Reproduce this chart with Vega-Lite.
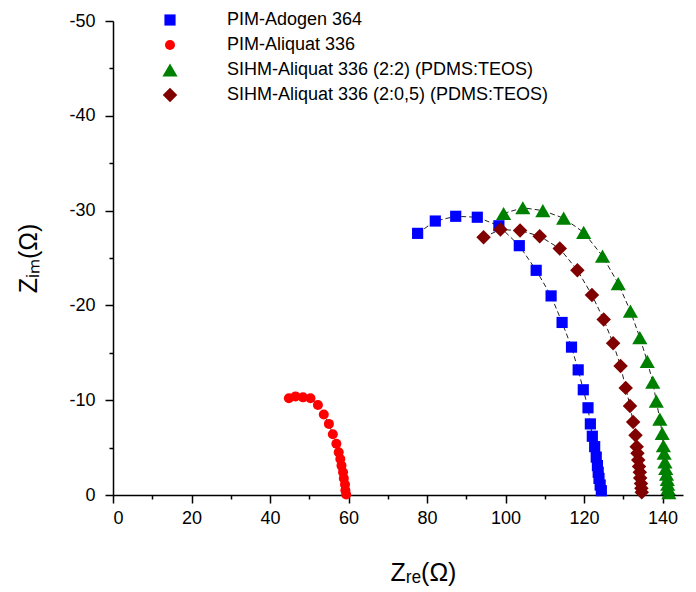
{
  "$schema": "https://vega.github.io/schema/vega-lite/v6.json",
  "autosize": {"type": "none"},
  "padding": {"left": 113, "top": 21, "right": 13, "bottom": 97},
  "width": 570,
  "height": 474,
  "background": "white",
  "config": {
    "view": {"stroke": null},
    "font": "Liberation Sans",
    "axis": {"grid": false, "domainColor": "black", "domainWidth": 1.5, "tickColor": "black", "tickWidth": 1.5, "labelColor": "black", "labelFontSize": 18, "labelFont": "Liberation Sans", "titleFont": "Liberation Sans", "titleFontWeight": "normal", "titleColor": "black", "titleFontSize": 23},
    "legend": {"title": null, "orient": "none", "legendX": 48, "legendY": -10, "labelFontSize": 18, "labelFont": "Liberation Sans", "labelColor": "black", "labelOffset": 48, "rowPadding": 7, "padding": 0, "labelLimit": 500}
  },
  "data": {"values": [
    {"s": "PIM-Adogen 364", "x": 77.6, "y": -27.6},
    {"s": "PIM-Adogen 364", "x": 82.1, "y": -28.9},
    {"s": "PIM-Adogen 364", "x": 87.3, "y": -29.4},
    {"s": "PIM-Adogen 364", "x": 92.8, "y": -29.3},
    {"s": "PIM-Adogen 364", "x": 98.3, "y": -28.4},
    {"s": "PIM-Adogen 364", "x": 103.5, "y": -26.3},
    {"s": "PIM-Adogen 364", "x": 107.8, "y": -23.7},
    {"s": "PIM-Adogen 364", "x": 111.6, "y": -21.0},
    {"s": "PIM-Adogen 364", "x": 114.4, "y": -18.2},
    {"s": "PIM-Adogen 364", "x": 116.8, "y": -15.6},
    {"s": "PIM-Adogen 364", "x": 118.5, "y": -13.2},
    {"s": "PIM-Adogen 364", "x": 119.8, "y": -11.1},
    {"s": "PIM-Adogen 364", "x": 121.0, "y": -9.2},
    {"s": "PIM-Adogen 364", "x": 121.6, "y": -7.5},
    {"s": "PIM-Adogen 364", "x": 122.1, "y": -6.2},
    {"s": "PIM-Adogen 364", "x": 122.7, "y": -5.1},
    {"s": "PIM-Adogen 364", "x": 123.1, "y": -4.0},
    {"s": "PIM-Adogen 364", "x": 123.4, "y": -3.1},
    {"s": "PIM-Adogen 364", "x": 123.6, "y": -2.4},
    {"s": "PIM-Adogen 364", "x": 123.8, "y": -1.75},
    {"s": "PIM-Adogen 364", "x": 124.1, "y": -1.05},
    {"s": "PIM-Adogen 364", "x": 124.4, "y": -0.45},
    {"s": "PIM-Aliquat 336", "x": 44.8, "y": -10.2},
    {"s": "PIM-Aliquat 336", "x": 46.5, "y": -10.4},
    {"s": "PIM-Aliquat 336", "x": 48.4, "y": -10.3},
    {"s": "PIM-Aliquat 336", "x": 50.3, "y": -10.2},
    {"s": "PIM-Aliquat 336", "x": 52.2, "y": -9.5},
    {"s": "PIM-Aliquat 336", "x": 53.7, "y": -8.5},
    {"s": "PIM-Aliquat 336", "x": 55.0, "y": -7.5},
    {"s": "PIM-Aliquat 336", "x": 56.0, "y": -6.4},
    {"s": "PIM-Aliquat 336", "x": 56.9, "y": -5.4},
    {"s": "PIM-Aliquat 336", "x": 57.5, "y": -4.5},
    {"s": "PIM-Aliquat 336", "x": 57.9, "y": -3.8},
    {"s": "PIM-Aliquat 336", "x": 58.2, "y": -3.1},
    {"s": "PIM-Aliquat 336", "x": 58.6, "y": -2.4},
    {"s": "PIM-Aliquat 336", "x": 58.8, "y": -1.75},
    {"s": "PIM-Aliquat 336", "x": 59.1, "y": -1.1},
    {"s": "PIM-Aliquat 336", "x": 59.2, "y": -0.5},
    {"s": "PIM-Aliquat 336", "x": 59.4, "y": -0.05},
    {"s": "SIHM-Aliquat 336 (2:2) (PDMS:TEOS)", "x": 99.5, "y": -29.7},
    {"s": "SIHM-Aliquat 336 (2:2) (PDMS:TEOS)", "x": 104.4, "y": -30.3},
    {"s": "SIHM-Aliquat 336 (2:2) (PDMS:TEOS)", "x": 109.5, "y": -30.0},
    {"s": "SIHM-Aliquat 336 (2:2) (PDMS:TEOS)", "x": 114.8, "y": -29.2},
    {"s": "SIHM-Aliquat 336 (2:2) (PDMS:TEOS)", "x": 119.9, "y": -27.7},
    {"s": "SIHM-Aliquat 336 (2:2) (PDMS:TEOS)", "x": 124.7, "y": -25.2},
    {"s": "SIHM-Aliquat 336 (2:2) (PDMS:TEOS)", "x": 128.7, "y": -22.3},
    {"s": "SIHM-Aliquat 336 (2:2) (PDMS:TEOS)", "x": 131.8, "y": -19.4},
    {"s": "SIHM-Aliquat 336 (2:2) (PDMS:TEOS)", "x": 134.2, "y": -16.6},
    {"s": "SIHM-Aliquat 336 (2:2) (PDMS:TEOS)", "x": 136.1, "y": -14.1},
    {"s": "SIHM-Aliquat 336 (2:2) (PDMS:TEOS)", "x": 137.5, "y": -11.9},
    {"s": "SIHM-Aliquat 336 (2:2) (PDMS:TEOS)", "x": 138.4, "y": -9.9},
    {"s": "SIHM-Aliquat 336 (2:2) (PDMS:TEOS)", "x": 139.3, "y": -8.0},
    {"s": "SIHM-Aliquat 336 (2:2) (PDMS:TEOS)", "x": 139.9, "y": -6.5},
    {"s": "SIHM-Aliquat 336 (2:2) (PDMS:TEOS)", "x": 140.2, "y": -5.2},
    {"s": "SIHM-Aliquat 336 (2:2) (PDMS:TEOS)", "x": 140.4, "y": -4.4},
    {"s": "SIHM-Aliquat 336 (2:2) (PDMS:TEOS)", "x": 140.6, "y": -3.5},
    {"s": "SIHM-Aliquat 336 (2:2) (PDMS:TEOS)", "x": 140.8, "y": -2.8},
    {"s": "SIHM-Aliquat 336 (2:2) (PDMS:TEOS)", "x": 141.0, "y": -2.2},
    {"s": "SIHM-Aliquat 336 (2:2) (PDMS:TEOS)", "x": 141.2, "y": -1.65},
    {"s": "SIHM-Aliquat 336 (2:2) (PDMS:TEOS)", "x": 141.3, "y": -1.15},
    {"s": "SIHM-Aliquat 336 (2:2) (PDMS:TEOS)", "x": 141.4, "y": -0.7},
    {"s": "SIHM-Aliquat 336 (2:2) (PDMS:TEOS)", "x": 141.6, "y": -0.25},
    {"s": "SIHM-Aliquat 336 (2:0,5) (PDMS:TEOS)", "x": 94.4, "y": -27.2},
    {"s": "SIHM-Aliquat 336 (2:0,5) (PDMS:TEOS)", "x": 98.7, "y": -28.0},
    {"s": "SIHM-Aliquat 336 (2:0,5) (PDMS:TEOS)", "x": 103.7, "y": -27.9},
    {"s": "SIHM-Aliquat 336 (2:0,5) (PDMS:TEOS)", "x": 108.7, "y": -27.3},
    {"s": "SIHM-Aliquat 336 (2:0,5) (PDMS:TEOS)", "x": 113.8, "y": -26.0},
    {"s": "SIHM-Aliquat 336 (2:0,5) (PDMS:TEOS)", "x": 118.3, "y": -23.7},
    {"s": "SIHM-Aliquat 336 (2:0,5) (PDMS:TEOS)", "x": 122.0, "y": -21.1},
    {"s": "SIHM-Aliquat 336 (2:0,5) (PDMS:TEOS)", "x": 125.0, "y": -18.5},
    {"s": "SIHM-Aliquat 336 (2:0,5) (PDMS:TEOS)", "x": 127.4, "y": -16.0},
    {"s": "SIHM-Aliquat 336 (2:0,5) (PDMS:TEOS)", "x": 129.3, "y": -13.6},
    {"s": "SIHM-Aliquat 336 (2:0,5) (PDMS:TEOS)", "x": 130.6, "y": -11.3},
    {"s": "SIHM-Aliquat 336 (2:0,5) (PDMS:TEOS)", "x": 131.7, "y": -9.4},
    {"s": "SIHM-Aliquat 336 (2:0,5) (PDMS:TEOS)", "x": 132.5, "y": -7.7},
    {"s": "SIHM-Aliquat 336 (2:0,5) (PDMS:TEOS)", "x": 133.1, "y": -6.3},
    {"s": "SIHM-Aliquat 336 (2:0,5) (PDMS:TEOS)", "x": 133.4, "y": -5.1},
    {"s": "SIHM-Aliquat 336 (2:0,5) (PDMS:TEOS)", "x": 133.6, "y": -4.4},
    {"s": "SIHM-Aliquat 336 (2:0,5) (PDMS:TEOS)", "x": 133.8, "y": -3.7},
    {"s": "SIHM-Aliquat 336 (2:0,5) (PDMS:TEOS)", "x": 134.0, "y": -3.0},
    {"s": "SIHM-Aliquat 336 (2:0,5) (PDMS:TEOS)", "x": 134.2, "y": -2.4},
    {"s": "SIHM-Aliquat 336 (2:0,5) (PDMS:TEOS)", "x": 134.3, "y": -1.8},
    {"s": "SIHM-Aliquat 336 (2:0,5) (PDMS:TEOS)", "x": 134.5, "y": -1.2},
    {"s": "SIHM-Aliquat 336 (2:0,5) (PDMS:TEOS)", "x": 134.6, "y": -0.7},
    {"s": "SIHM-Aliquat 336 (2:0,5) (PDMS:TEOS)", "x": 134.7, "y": -0.3}
  ]},
  "encoding": {
    "x": {"field": "x", "type": "quantitative", "scale": {"domain": [0, 145.2], "nice": false, "zero": false},
      "axis": {"title": "Zᵣₑ(Ω)", "values": [0,10,20,30,40,50,60,70,80,90,100,110,120,130,140],
        "labelExpr": "datum.value % 20 === 0 ? '' + datum.value : ''",
        "tickSize": {"condition": {"test": "datum.value % 20 === 0", "value": 8}, "value": 4},
        "labelPadding": 6, "titleX": 310, "titleY": 85, "titleAlign": "center", "titleBaseline": "alphabetic", "titleFontSize": 25}},
    "y": {"field": "y", "type": "quantitative", "scale": {"domain": [0, -50], "nice": false, "zero": false},
      "axis": {"title": "Zᵢₘ(Ω)", "values": [0,-5,-10,-15,-20,-25,-30,-35,-40,-45,-50],
        "labelExpr": "datum.value % 10 === 0 ? '' + datum.value : ''",
        "tickSize": {"condition": {"test": "datum.value % 10 === 0", "value": 8}, "value": 4},
        "labelPadding": 10, "titleX": -85, "titleY": 237, "titleAlign": "center", "titleBaseline": "middle", "titleAngle": -90, "titleFontSize": 25}}
  },
  "layer": [
    {
      "mark": {"type": "line", "color": "#222222", "strokeWidth": 1, "strokeDash": [5, 3]},
      "encoding": {"detail": {"field": "s"}}
    },
    {
      "mark": {"type": "point", "filled": true, "opacity": 1},
      "encoding": {
        "color": {"field": "s", "type": "nominal",
          "scale": {"domain": ["PIM-Adogen 364", "PIM-Aliquat 336", "SIHM-Aliquat 336 (2:2) (PDMS:TEOS)", "SIHM-Aliquat 336 (2:0,5) (PDMS:TEOS)"],
                    "range": ["#0000FF", "#FF0000", "#008000", "#800000"]}},
        "shape": {"field": "s", "type": "nominal",
          "scale": {"domain": ["PIM-Adogen 364", "PIM-Aliquat 336", "SIHM-Aliquat 336 (2:2) (PDMS:TEOS)", "SIHM-Aliquat 336 (2:0,5) (PDMS:TEOS)"],
                    "range": ["square", "circle", "triangle-up", "diamond"]}},
        "size": {"field": "s", "type": "nominal",
          "scale": {"type": "ordinal", "domain": ["PIM-Adogen 364", "PIM-Aliquat 336", "SIHM-Aliquat 336 (2:2) (PDMS:TEOS)", "SIHM-Aliquat 336 (2:0,5) (PDMS:TEOS)"],
                    "range": [125, 100, 230, 210]}}
      }
    }
  ]
}
